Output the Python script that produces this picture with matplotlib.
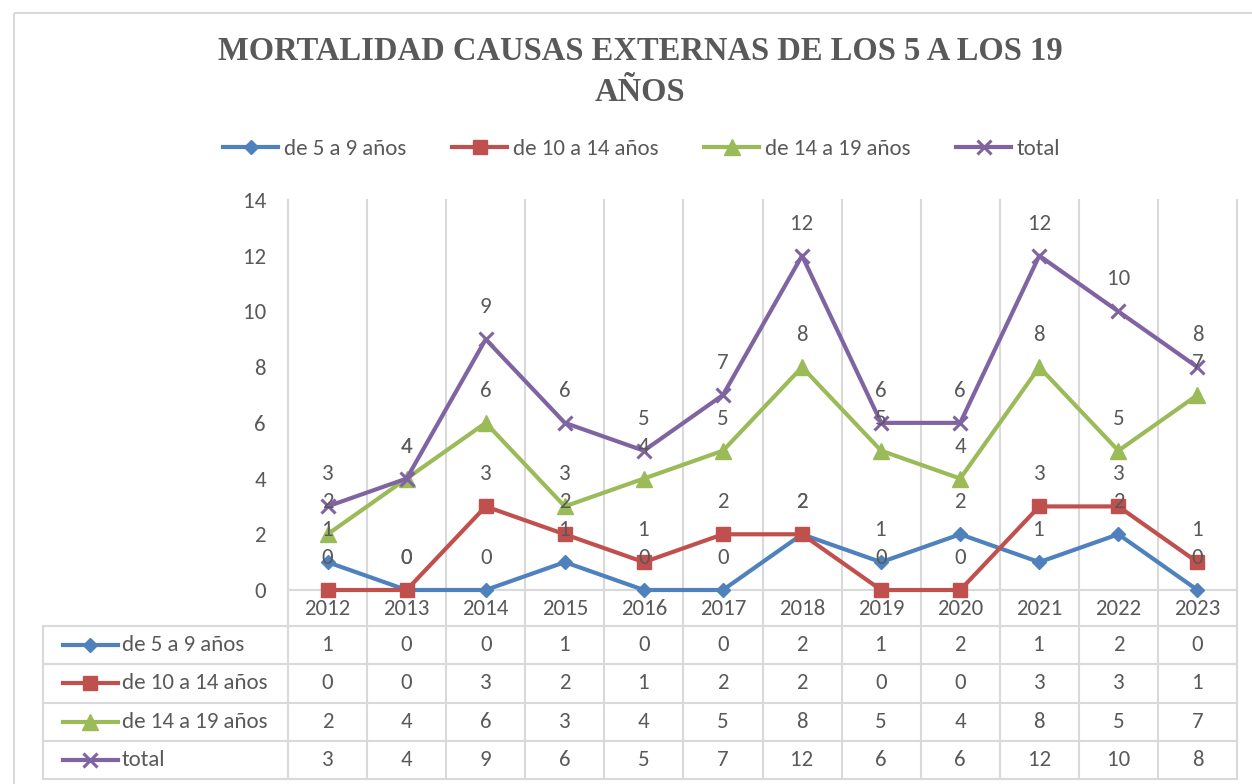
import matplotlib
matplotlib.use("Agg")
import matplotlib.pyplot as plt
from matplotlib.transforms import blended_transform_factory
from matplotlib.patches import Rectangle

years = ["2012", "2013", "2014", "2015", "2016", "2017", "2018", "2019", "2020", "2021", "2022", "2023"]
s_5_9 = [1, 0, 0, 1, 0, 0, 2, 1, 2, 1, 2, 0]
s_10_14 = [0, 0, 3, 2, 1, 2, 2, 0, 0, 3, 3, 1]
s_14_19 = [2, 4, 6, 3, 4, 5, 8, 5, 4, 8, 5, 7]
s_total = [3, 4, 9, 6, 5, 7, 12, 6, 6, 12, 10, 8]
series_names = ["de 5 a 9 años", "de 10 a 14 años", "de 14 a 19 años", "total"]
y_ticks = [0, 2, 4, 6, 8, 10, 12, 14]
title = "MORTALIDAD CAUSAS EXTERNAS DE LOS 5 A LOS 19\nAÑOS"

colors = ["#4F81BD", "#C0504D", "#9BBB59", "#8064A2"]
markers = ["D", "s", "^", "x"]
msizes = [7.5, 10, 11, 10]
TXT = "#595959"
GRID = "#D9D9D9"
FONT = ["Carlito", "DejaVu Sans"]
FS = 16.5

W, H = 1252, 784
fig = plt.figure(figsize=(W / 100, H / 100), dpi=100)
fig.patch.set_facecolor("white")

ov = fig.add_axes([0, 0, 1, 1])
ov.set_xlim(0, W)
ov.set_ylim(H, 0)
ov.axis("off")
ov.add_patch(Rectangle((14, 13), W + 20, H + 20, fill=False, edgecolor=GRID, lw=1.5))

# plot area in pixels
pl, pr, pt, pb = 288, 1237, 200, 590
ax = fig.add_axes([pl / W, 1 - pb / H, (pr - pl) / W, (pb - pt) / H])
ax.set_facecolor("none")
n = len(years)
xs = list(range(n))
ax.set_xlim(-0.5, n - 0.5)
ax.set_ylim(0, 14)
for s in ax.spines.values():
    s.set_visible(False)
ax.set_xticks([])
ax.set_yticks(y_ticks)
ax.set_yticklabels([str(v) for v in y_ticks], family=FONT, fontsize=FS, color=TXT)
ax.tick_params(axis="y", length=0, pad=16)

all_series = [s_5_9, s_10_14, s_14_19, s_total]
handles = []
for vals, c, m, ms, name in zip(all_series, colors, markers, msizes, series_names):
    mew = 2.2 if m == "x" else 1
    ln, = ax.plot(xs, vals, color=c, lw=3, marker=m, markersize=ms, markeredgewidth=mew,
                  markerfacecolor=c, markeredgecolor=c, label=name, clip_on=False, zorder=3)
    handles.append(ln)
    for x, v in zip(xs, vals):
        ax.annotate(str(v), (x, v), xytext=(0, 23), textcoords="offset points",
                    ha="center", va="center", family=FONT, fontsize=FS, color=TXT, zorder=4)

tr = blended_transform_factory(ax.transData, ov.transData)
# axis line at 0
ov.plot([pl, pr], [pb, pb], color=GRID, lw=1.5, zorder=1)
# vertical category lines through table
tbl_top, tbl_bot, tbl_left = 626, 779, 43
row_h = (tbl_bot - tbl_top) / 4
for k in range(n + 1):
    ov.plot([k - 0.5, k - 0.5], [pt, tbl_bot], color=GRID, lw=1.5, transform=tr, zorder=1)
# table horizontal lines
for r in range(5):
    y = tbl_top + r * row_h
    ov.plot([tbl_left, pr], [y, y], color=GRID, lw=1.5, zorder=1)
ov.plot([tbl_left, tbl_left], [tbl_top, tbl_bot], color=GRID, lw=1.5, zorder=1)

# year labels
for x, yl in zip(xs, years):
    ov.text(x, 609, yl, transform=tr, ha="center", va="center", family=FONT, fontsize=FS, color=TXT)

# table rows
for r, (vals, c, m, ms, name) in enumerate(zip(all_series, colors, markers, msizes, series_names)):
    yc = tbl_top + (r + 0.5) * row_h
    mew = 2.2 if m == "x" else 1
    ov.plot([63, 118], [yc, yc], color=c, lw=3, zorder=2)
    ov.plot([90], [yc], color=c, marker=m, markersize=ms, markeredgewidth=mew,
            markerfacecolor=c, markeredgecolor=c, zorder=2)
    ov.text(122, yc, name, ha="left", va="center", family=FONT, fontsize=FS, color=TXT)
    for x, v in zip(xs, vals):
        ov.text(x, yc, str(v), transform=tr, ha="center", va="center", family=FONT, fontsize=FS, color=TXT)

# title
fig.text(640 / W, 1 - 72 / H, title, ha="center", va="center", family="Liberation Serif",
         fontweight="bold", fontsize=23.5, color=TXT, linespacing=1.4)

# legend
fig.legend(handles=handles, loc="center", bbox_to_anchor=(642 / W, 1 - 149 / H), ncol=4,
           frameon=False, handlelength=2.4, handletextpad=0.25, columnspacing=2.0,
           prop={"family": FONT, "size": FS}, labelcolor=TXT)

fig.savefig("out.png", dpi=100, facecolor="white")
